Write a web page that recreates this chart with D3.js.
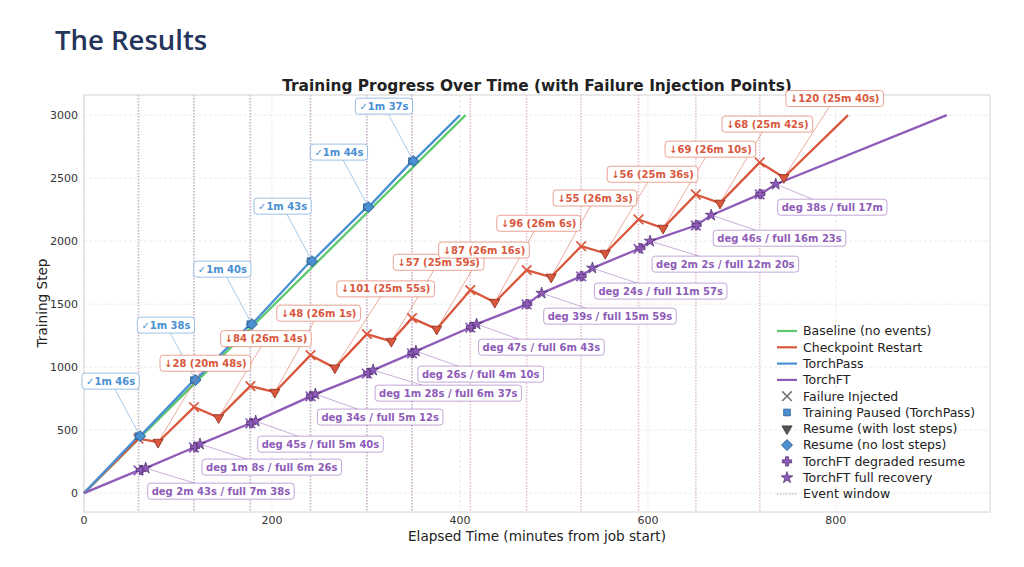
<!DOCTYPE html>
<html lang="en">
<head>
<meta charset="UTF-8">
<title>The Results</title>
<script src="https://d3js.org/d3.v7.min.js"></script>
<style>
    body { margin: 0; background: #fff; }
    svg { display: block; }
    text { font-family: "DejaVu Sans", sans-serif; }
</style>
</head>
<body>
<svg id="chart" width="1024" height="567"></svg>
<script>
    // failure injection times (minutes from job start)
    const failTimes = [58, 117, 177, 241, 301, 349, 411, 471, 529, 590, 651, 719];

    // baseline run
    const baseTimes = [0, 406];
    const baseSteps = [0, 3000];

    // TorchPass: step at failure, pause length (s), end of run
    const tpFailSteps = [452, 897, 1341, 1841, 2270, 2635];
    const tpPauseSec = [106, 98, 100, 103, 104, 97];
    const tpEnd = [400, 3000];

    // Checkpoint restart: step at failure, lost steps, downtime (s)
    const ckptFailSteps = [432, 683, 849, 1095, 1262, 1389, 1611, 1770, 1960, 2172, 2370, 2625];
    const ckptLost = [28, 84, 48, 101, 57, 87, 96, 55, 56, 69, 68, 120];
    const ckptDownSec = [1248, 1574, 1561, 1555, 1559, 1576, 1566, 1563, 1536, 1570, 1542, 1540];
    const ckptEnd = [813, 3000];

    // TorchFT: degraded resume and full recovery (s after failure) and steps
    const ftDegSec = [163, 68, 45, 34, 88, 26, 47, 39, 24, 122, 46, 38];
    const ftFullSec = [458, 386, 340, 312, 397, 250, 403, 959, 717, 740, 983, 1020];
    const ftFailSteps = [180, 362, 554, 768, 948, 1109, 1314, 1498, 1720, 1938, 2124, 2371];
    const ftDegSteps = [183, 365, 556, 770, 952, 1111, 1317, 1500, 1722, 1944, 2127, 2373];
    const ftFullSteps = [198, 389, 571, 786, 976, 1127, 1341, 1587, 1786, 2000, 2206, 2452];
    const ftEnd = [918, 3000];

    const xTicks = [0, 200, 400, 600, 800];
    const yTicks = [0, 500, 1000, 1500, 2000, 2500, 3000];

    const C = {
        base: "#5ec96e",
        ckpt: "#d9573d",
        tp: "#4a90d2",
        ft: "#8e5cb8"
    };

    const svg = d3.select("#chart");
    const x = d3.scaleLinear().domain([0, 964]).range([84, 990]);
    const y = d3.scaleLinear().domain([-150, 3160]).range([512, 95]);

    const fmt = sec => {
        const m = Math.floor(sec / 60), s = sec % 60;
        if (m === 0) return s + "s";
        return s === 0 ? m + "m" : m + "m " + s + "s";
    };

    // slide title
    svg.append("text").attr("x", 55).attr("y", 50)
        .style("font-family", "'Open Sans', sans-serif")
        .attr("font-size", 27.5).attr("font-weight", 600).attr("fill", "#24345a")
        .text("The Results");

    // chart title
    svg.append("text").attr("x", 537).attr("y", 91).attr("text-anchor", "middle")
        .attr("font-size", 15.4).attr("font-weight", "bold").attr("fill", "#222")
        .text("Training Progress Over Time (with Failure Injection Points)");

    // grid
    const grid = svg.append("g");
    grid.selectAll(".gx").data(xTicks).enter().append("line")
        .attr("x1", d => x(d)).attr("x2", d => x(d)).attr("y1", 95).attr("y2", 512)
        .attr("stroke", "#ebebeb").attr("stroke-dasharray", "3,2");
    grid.selectAll(".gy").data(yTicks).enter().append("line")
        .attr("y1", d => y(d)).attr("y2", d => y(d)).attr("x1", 84).attr("x2", 990)
        .attr("stroke", "#ebebeb").attr("stroke-dasharray", "3,2");

    // event windows
    const events = [];
    failTimes.forEach((t, i) => {
        if (i < tpFailSteps.length) events.push({ t, c: C.tp });
        events.push({ t, c: C.ckpt });
        events.push({ t, c: C.ft });
    });
    svg.append("g").selectAll("line").data(events).enter().append("line")
        .attr("x1", d => x(d.t)).attr("x2", d => x(d.t)).attr("y1", 95).attr("y2", 512)
        .attr("stroke", d => d.c).attr("stroke-opacity", 0.2)
        .attr("stroke-width", 1.6).attr("stroke-dasharray", "1.5,1.5");

    // frame
    svg.append("rect").attr("x", 84).attr("y", 95).attr("width", 906).attr("height", 417)
        .attr("fill", "none").attr("stroke", "#d4d4d4");

    // ticks
    svg.append("g").selectAll("text").data(xTicks).enter().append("text")
        .attr("x", d => x(d)).attr("y", 524).attr("text-anchor", "middle")
        .attr("font-size", 11).attr("fill", "#333").text(d => d);
    svg.append("g").selectAll("text").data(yTicks).enter().append("text")
        .attr("x", 78).attr("y", d => y(d)).attr("dy", "0.35em").attr("text-anchor", "end")
        .attr("font-size", 11).attr("fill", "#333").text(d => d);

    svg.append("text").attr("x", 537).attr("y", 541).attr("text-anchor", "middle")
        .attr("font-size", 13.6).attr("fill", "#222").text("Elapsed Time (minutes from job start)");
    svg.append("text").attr("transform", "translate(47,303) rotate(-90)").attr("text-anchor", "middle")
        .attr("font-size", 13.6).attr("fill", "#222").text("Training Step");

    // build series
    const basePts = baseTimes.map((t, i) => [t, baseSteps[i]]);

    const tpPts = [[0, 0]], tpPause = [], tpResume = [];
    tpFailSteps.forEach((s, i) => {
        const t0 = failTimes[i], t1 = t0 + tpPauseSec[i] / 60;
        tpPts.push([t0, s], [t1, s]);
        tpPause.push([t0, s]);
        tpResume.push({ t: t1, s, label: "\u2713" + fmt(tpPauseSec[i]) });
    });
    tpPts.push(tpEnd);

    const ckptPts = [[0, 0]], ckptFail = [], ckptResume = [];
    ckptFailSteps.forEach((s, i) => {
        const t0 = failTimes[i], t1 = t0 + ckptDownSec[i] / 60, s1 = s - ckptLost[i];
        ckptPts.push([t0, s], [t1, s1]);
        ckptFail.push([t0, s]);
        ckptResume.push({ t: t1, s: s1, label: "\u2193" + ckptLost[i] + " (" + fmt(ckptDownSec[i]) + ")" });
    });
    ckptPts.push(ckptEnd);

    const ftPts = [[0, 0]], ftFail = [], ftDeg = [], ftFull = [];
    ftFailSteps.forEach((s, i) => {
        const t0 = failTimes[i];
        const td = t0 + ftDegSec[i] / 60, tf = t0 + ftFullSec[i] / 60;
        ftPts.push([t0, s], [td, ftDegSteps[i]], [tf, ftFullSteps[i]]);
        ftFail.push([t0, s]);
        ftDeg.push([td, ftDegSteps[i]]);
        ftFull.push({ t: tf, s: ftFullSteps[i], label: "deg " + fmt(ftDegSec[i]) + " / full " + fmt(ftFullSec[i]) });
    });
    ftPts.push(ftEnd);

    const line = d3.line().x(d => x(d[0])).y(d => y(d[1]));
    const lines = svg.append("g").attr("fill", "none").attr("stroke-width", 2.3).attr("stroke-linejoin", "round");
    lines.append("path").attr("d", line(basePts)).attr("stroke", C.base);
    lines.append("path").attr("d", line(ckptPts)).attr("stroke", C.ckpt);
    lines.append("path").attr("d", line(tpPts)).attr("stroke", C.tp);
    lines.append("path").attr("d", line(ftPts)).attr("stroke", C.ft);

    // markers
    const xPath = r => `M${-r},${-r}L${r},${r}M${-r},${r}L${r},${-r}`;
    const sym = (type, size) => d3.symbol().type(type).size(size)();
    const mk = svg.append("g");

    function markers(data, draw) {
        data.forEach(d => {
            const px = Array.isArray(d) ? x(d[0]) : x(d.t);
            const py = Array.isArray(d) ? y(d[1]) : y(d.s);
            draw(mk.append("g").attr("transform", `translate(${px},${py})`));
        });
    }
    const drawX = (g, c) => g.append("path").attr("d", xPath(4.8)).attr("stroke", c).attr("stroke-width", 1.7).attr("fill", "none");
    const drawSquare = g => g.append("path").attr("d", sym(d3.symbolSquare, 45)).attr("fill", C.tp).attr("stroke", "#2d5f8f").attr("stroke-width", 0.8);
    const drawTri = (g, c, e) => g.append("path").attr("d", sym(d3.symbolTriangle, 44)).attr("transform", "rotate(180)").attr("fill", c).attr("stroke", e).attr("stroke-width", 0.8);
    const drawDiamond = g => g.append("path").attr("d", sym(d3.symbolSquare, 60)).attr("transform", "rotate(45)").attr("fill", C.tp).attr("stroke", "#2d5f8f").attr("stroke-width", 0.9);
    const drawPlus = g => g.append("path").attr("d", sym(d3.symbolCross, 48)).attr("fill", C.ft).attr("stroke", "#4a2a6a").attr("stroke-width", 0.7);
    const drawStar = g => g.append("path").attr("d", sym(d3.symbolStar, 42)).attr("fill", C.ft).attr("stroke", "#4a2a6a").attr("stroke-width", 0.7);

    markers(ckptFail, g => drawX(g, C.ckpt));
    markers(ckptResume, g => drawTri(g, C.ckpt, "#8a2a1a"));
    markers(tpPause, drawSquare);
    markers(tpResume, drawDiamond);
    markers(ftFail, g => drawX(g, C.ft));
    markers(ftDeg, drawPlus);
    markers(ftFull, drawStar);

    // annotations
    const ann = svg.append("g");
    const boxes = svg.append("g");
    function annotate(d, color, align, dy) {
        const ax = x(d.t), ay = y(d.s);
        const g = boxes.append("g");
        const t = g.append("text").attr("font-size", 10).attr("font-weight", "bold")
            .attr("fill", color).attr("dy", "0.35em").text(d.label);
        const w = t.node().getComputedTextLength() + 8, h = 16;
        const left = align === "left" ? ax + 2 : ax - 1 - w;
        const cy = ay + dy;
        t.attr("x", left + 4).attr("y", cy);
        g.insert("rect", "text").attr("x", left).attr("y", cy - h / 2).attr("width", w).attr("height", h)
            .attr("rx", 3).attr("fill", "#fff").attr("stroke", color).attr("stroke-opacity", 0.55).attr("stroke-width", 1);
        // leader from box edge to anchor
        const cx = left + w / 2;
        const vx = ax - cx, vy = ay - cy;
        const k = Math.min(Math.abs((w / 2) / (vx || 1e-6)), Math.abs((h / 2) / (vy || 1e-6)));
        ann.append("line").attr("x1", cx + vx * k).attr("y1", cy + vy * k).attr("x2", ax).attr("y2", ay)
            .attr("stroke", color).attr("stroke-opacity", 0.55).attr("stroke-width", 0.9);
    }
    tpResume.forEach(d => annotate(d, C.tp, "right", -55));
    ckptResume.forEach(d => annotate(d, C.ckpt, "left", -79));
    ftFull.forEach(d => annotate(d, C.ft, "left", 23));

    // legend
    const legendItems = [
        { label: "Baseline (no events)", kind: "line", c: C.base },
        { label: "Checkpoint Restart", kind: "line", c: C.ckpt },
        { label: "TorchPass", kind: "line", c: C.tp },
        { label: "TorchFT", kind: "line", c: C.ft },
        { label: "Failure Injected", kind: "x" },
        { label: "Training Paused (TorchPass)", kind: "square" },
        { label: "Resume (with lost steps)", kind: "tri" },
        { label: "Resume (no lost steps)", kind: "diamond" },
        { label: "TorchFT degraded resume", kind: "plus" },
        { label: "TorchFT full recovery", kind: "star" },
        { label: "Event window", kind: "dots" }
    ];
    const leg = svg.append("g");
    legendItems.forEach((it, i) => {
        const ly = 331 + i * 16.3;
        const g = leg.append("g").attr("transform", `translate(787,${ly})`);
        if (it.kind === "line") g.append("line").attr("x1", -10).attr("x2", 10).attr("stroke", it.c).attr("stroke-width", 2.2);
        if (it.kind === "dots") g.append("line").attr("x1", -10).attr("x2", 10).attr("stroke", "#aaa").attr("stroke-width", 1).attr("stroke-dasharray", "1.5,1.5");
        if (it.kind === "x") drawX(g, "#777");
        if (it.kind === "square") drawSquare(g);
        if (it.kind === "tri") drawTri(g, "#555", "#333");
        if (it.kind === "diamond") drawDiamond(g);
        if (it.kind === "plus") drawPlus(g);
        if (it.kind === "star") drawStar(g);
        leg.append("text").attr("x", 803).attr("y", ly).attr("dy", "0.35em")
            .attr("font-size", 12.5).attr("fill", "#222").text(it.label);
    });
</script>
</body>
</html>
